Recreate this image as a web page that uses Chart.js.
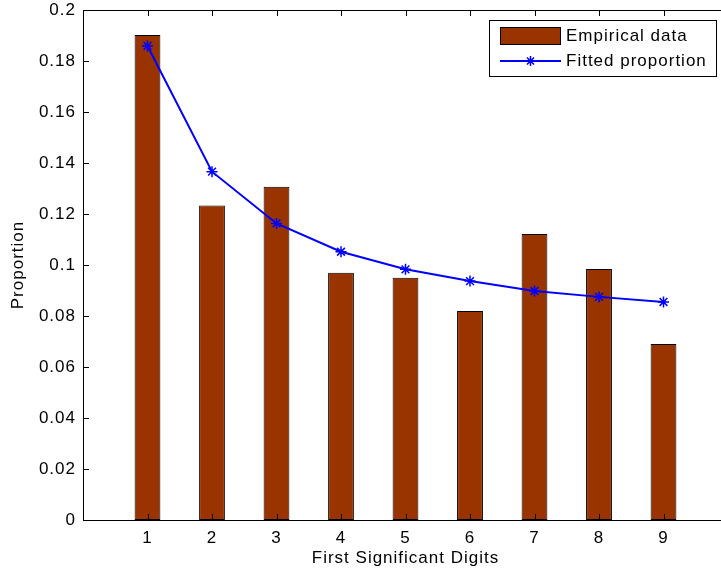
<!DOCTYPE html>
<html>
<head>
<meta charset="utf-8">
<script src="https://cdn.jsdelivr.net/npm/chart.js@4/dist/chart.umd.min.js"></script>
<style>
  html, body { margin: 0; padding: 0; background: #fff; overflow: hidden; }
  #wrap { width: 721px; height: 575px; overflow: hidden; position: relative; }
  canvas { display: block; }
</style>
</head>
<body>
<div id="wrap"><canvas id="c" width="740" height="575"></canvas></div>
<script>
const digits = [1, 2, 3, 4, 5, 6, 7, 8, 9];
const empirical = [0.1902, 0.1233, 0.1307, 0.0970, 0.0950, 0.0820, 0.1122, 0.0984, 0.0690];
const fitted = [0.1859, 0.1366, 0.1163, 0.1052, 0.0983, 0.0937, 0.0898, 0.0875, 0.0855];
const yTicks = [0, 0.02, 0.04, 0.06, 0.08, 0.1, 0.12, 0.14, 0.16, 0.18, 0.2];
const seriesNames = ['Empirical data', 'Fitted proportion'];
const xLabel = 'First Significant Digits';
const yLabel = 'Proportion';

const FONT = "'Liberation Sans', Arial, Helvetica, sans-serif";
const FS = 17;
const BAR_COLOR = '#993300';
const LINE_COLOR = '#0000ff';

const spacingPlugin = {
  id: 'letterSpacing',
  beforeUpdate(chart) { chart.ctx.letterSpacing = '1px'; },
  beforeLayout(chart) { chart.ctx.letterSpacing = '1px'; },
  beforeDraw(chart) { chart.ctx.letterSpacing = '1px'; }
};

const boxPlugin = {
  id: 'matlabBox',
  afterDatasetsDraw(chart) {
    const {ctx, chartArea: a, scales: {x, y}} = chart;
    ctx.save();
    ctx.strokeStyle = '#000';
    ctx.lineWidth = 1;
    ctx.strokeRect(Math.round(a.left) + 0.5, Math.round(a.top) + 0.5,
                   Math.round(a.right - a.left), Math.round(a.bottom - a.top));
    const tl = 6;
    ctx.beginPath();
    digits.forEach(d => {
      const px = Math.round(x.getPixelForValue(d)) + 0.5;
      ctx.moveTo(px, a.bottom); ctx.lineTo(px, a.bottom - tl);
      ctx.moveTo(px, a.top); ctx.lineTo(px, a.top + tl);
    });
    yTicks.forEach(v => {
      const py = Math.round(y.getPixelForValue(v)) + 0.5;
      ctx.moveTo(a.left, py); ctx.lineTo(a.left + tl, py);
      ctx.moveTo(a.right, py); ctx.lineTo(a.right - tl, py);
    });
    ctx.stroke();

    // legend
    const lx = 489.5, ly = 20.5, lw = 227, lh = 56;
    ctx.fillStyle = '#fff';
    ctx.fillRect(lx, ly, lw, lh);
    ctx.strokeRect(lx, ly, lw, lh);
    ctx.fillStyle = BAR_COLOR;
    ctx.fillRect(500.5, 27.5, 60, 17);
    ctx.strokeRect(500.5, 27.5, 60, 17);
    ctx.strokeStyle = LINE_COLOR;
    ctx.lineWidth = 2;
    ctx.beginPath();
    ctx.moveTo(500, 61); ctx.lineTo(561, 61);
    ctx.stroke();
    const cx = 530.5, cy = 61, r = 5;
    ctx.lineWidth = 1.5;
    ctx.beginPath();
    for (let i = 0; i < 4; i++) {
      const ang = i * Math.PI / 4;
      ctx.moveTo(cx - r * Math.sin(ang), cy - r * Math.cos(ang));
      ctx.lineTo(cx + r * Math.sin(ang), cy + r * Math.cos(ang));
    }
    ctx.stroke();
    ctx.fillStyle = '#000';
    ctx.font = FS + 'px ' + FONT;
    ctx.letterSpacing = '1px';
    ctx.textAlign = 'left';
    ctx.textBaseline = 'middle';
    ctx.fillText(seriesNames[0], 566, 36);
    ctx.fillText(seriesNames[1], 566, 61);
    ctx.restore();
  }
};

new Chart(document.getElementById('c'), {
  data: {
    datasets: [
      {
        type: 'line',
        label: seriesNames[1],
        data: digits.map((d, i) => ({x: d, y: fitted[i]})),
        borderColor: LINE_COLOR,
        backgroundColor: LINE_COLOR,
        borderWidth: 2,
        pointStyle: 'star',
        pointRadius: 5.5,
        pointBorderWidth: 1.5,
        pointBorderColor: LINE_COLOR,
        tension: 0,
        order: 0
      },
      {
        type: 'bar',
        label: seriesNames[0],
        data: digits.map((d, i) => ({x: d, y: empirical[i]})),
        backgroundColor: BAR_COLOR,
        borderColor: '#000',
        borderWidth: 1,
        borderSkipped: false,
        barPercentage: 0.4,
        categoryPercentage: 1.0,
        order: 1
      }
    ]
  },
  options: {
    responsive: false,
    animation: false,
    devicePixelRatio: 1,
    layout: { padding: { top: 10, right: 12, bottom: 0, left: 0 } },
    plugins: { legend: { display: false }, tooltip: { enabled: false } },
    scales: {
      x: {
        type: 'linear',
        position: 'bottom',
        offset: false,
        min: 0, max: 10,
        grid: { display: false, drawTicks: false, offset: false },
        border: { display: false },
        afterBuildTicks: s => { s.ticks = digits.map(v => ({value: v})); },
        ticks: {
          autoSkip: false,
          maxRotation: 0,
          padding: 8.5,
          color: '#000',
          font: { family: FONT, size: FS },
          callback: v => String(v)
        },
        title: {
          display: true, text: xLabel, color: '#000',
          font: { family: FONT, size: FS },
          padding: { top: 0, bottom: 6.5 }
        },
        afterFit: s => { s.height = 55; s.paddingLeft = 0; s.paddingRight = 0; }
      },
      y: {
        type: 'linear',
        position: 'left',
        min: 0, max: 0.2,
        grid: { display: false, drawTicks: false },
        border: { display: false },
        afterBuildTicks: s => { s.ticks = yTicks.map(v => ({value: v})); },
        ticks: {
          padding: 7,
          color: '#000',
          font: { family: FONT, size: FS },
          callback: v => String(parseFloat(Number(v).toFixed(2)))
        },
        title: {
          display: true, text: yLabel, color: '#000',
          font: { family: FONT, size: FS },
          padding: { top: 8, bottom: 0 }
        },
        afterFit: s => { s.width = 83; s.paddingTop = 0; s.paddingBottom = 0; }
      }
    }
  },
  plugins: [spacingPlugin, boxPlugin]
});
</script>
</body>
</html>
